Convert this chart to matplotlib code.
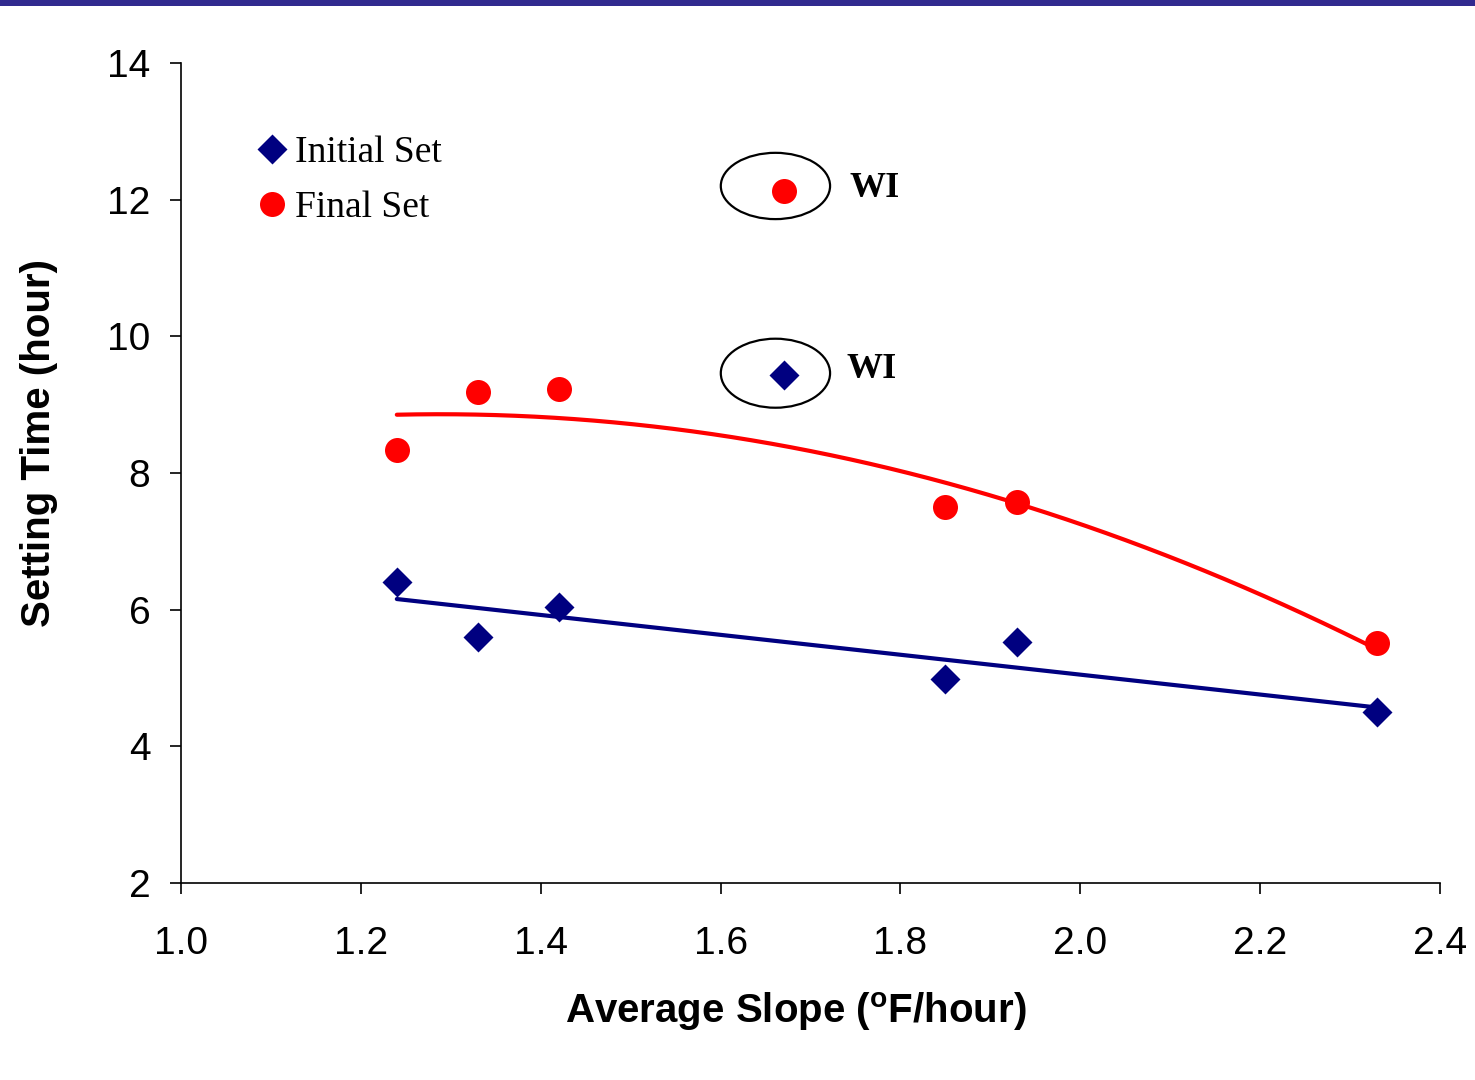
import numpy as np
import matplotlib.pyplot as plt
from matplotlib.patches import Ellipse, Rectangle

# values
slope = [1.24, 1.33, 1.42, 1.85, 1.93, 2.33]
initial_set = [6.41, 5.60, 6.04, 4.98, 5.53, 4.50]
final_set = [8.34, 9.19, 9.23, 7.50, 7.57, 5.51]
wi_slope = 1.67
wi_initial = 9.43
wi_final = 12.13

NAVY = "#000080"
RED = "#FF0000"

plt.rcParams.update({
    "font.family": "Liberation Sans",
    "axes.linewidth": 1.2,
    "xtick.major.width": 1.2,
    "ytick.major.width": 1.2,
    "xtick.major.size": 8,
    "ytick.major.size": 8,
})

fig = plt.figure(figsize=(14.75, 10.8), dpi=100)
ax = fig.add_axes([0.1227, 0.1824, 0.8536, 0.7593])

# Excel-style trendlines (linear for initial set, 2nd order poly for final set)
xs = np.linspace(min(slope), max(slope), 200)
p_init = np.polyfit(slope, initial_set, 1)
p_final = np.polyfit(slope, final_set, 2)
ax.plot(xs, np.polyval(p_init, xs), color=NAVY, lw=3.0, solid_capstyle="round", zorder=2)
ax.plot(xs, np.polyval(p_final, xs), color=RED, lw=3.0, solid_capstyle="round", zorder=2)

ax.plot(slope, initial_set, "D", color=NAVY, ms=15, mec="none", ls="none",
        label="Initial Set", zorder=3)
ax.plot(slope, final_set, "o", color=RED, ms=18, mec="none", ls="none",
        label="Final Set", zorder=3)

# WI outliers
ax.plot([wi_slope], [wi_initial], "D", color=NAVY, ms=15, mec="none", zorder=3)
ax.plot([wi_slope], [wi_final], "o", color=RED, ms=18, mec="none", zorder=3)
ax.add_patch(Ellipse((1.661, 12.20), 0.1215, 0.97, fill=False, ec="black", lw=1.6, zorder=4))
ax.add_patch(Ellipse((1.661, 9.46), 0.1215, 1.01, fill=False, ec="black", lw=1.6, zorder=4))
ax.text(1.743, 12.17, "WI", family="Liberation Serif", fontweight="bold",
        fontsize=26, ha="left", va="center")
ax.text(1.740, 9.52, "WI", family="Liberation Serif", fontweight="bold",
        fontsize=26, ha="left", va="center")

ax.set_xlim(1.0, 2.4)
ax.set_ylim(2, 14)
ax.set_xticks(np.arange(1.0, 2.41, 0.2))
ax.set_yticks(np.arange(2, 15, 2))
ax.set_xticklabels([f"{v:.1f}" for v in np.arange(1.0, 2.41, 0.2)])
ax.tick_params(labelsize=28)
ax.tick_params(axis="x", pad=23)
ax.tick_params(axis="y", pad=14)
for s in ("top", "right"):
    ax.spines[s].set_visible(False)

ax.set_xlabel(r"Average Slope ($\mathregular{^o}$F/hour)", fontsize=29,
              fontweight="bold", labelpad=20)
ax.set_ylabel("Setting Time (hour)", fontsize=29, fontweight="bold", labelpad=35)
ax.xaxis.label.set_x(0.4885)
ax.yaxis.label.set_y(0.5366)

leg = ax.legend(loc="upper left", bbox_to_anchor=(0.062, 0.911), frameon=False,
                prop={"family": "Liberation Serif", "size": 27},
                handlelength=0.7, handletextpad=0.25, labelspacing=0.54,
                borderpad=0, borderaxespad=0)

# dark band at top of slide
fig.add_artist(Rectangle((0, 0.9945), 1, 0.0055, transform=fig.transFigure,
                         color="#312A8F", lw=0))

fig.savefig("out.png", dpi=100)
